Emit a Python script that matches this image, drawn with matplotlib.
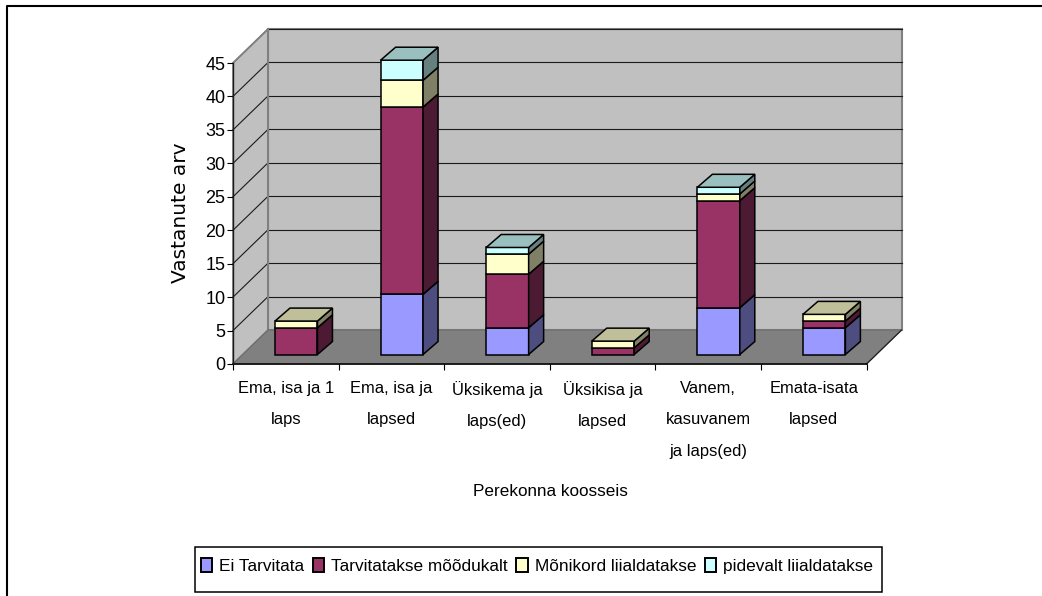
#!/usr/bin/env python3
import numpy as np
import matplotlib
matplotlib.use('Agg')
import matplotlib.pyplot as plt
from matplotlib.lines import Line2D
from matplotlib.patches import Patch, Polygon, Rectangle

plt.rcParams['font.family'] = ['Liberation Sans', 'DejaVu Sans']

categories = ['Ema, isa ja 1\nlaps', 'Ema, isa ja\nlapsed', 'Üksikema ja\nlaps(ed)',
              'Üksikisa ja\nlapsed', 'Vanem,\nkasuvanem\nja laps(ed)', 'Emata-isata\nlapsed']
series = ['Ei Tarvitata', 'Tarvitatakse mõõdukalt', 'Mõnikord liialdatakse', 'pidevalt liialdatakse']
ei_tarvitata = [0, 9, 4, 0, 7, 4]
moodukalt = [4, 28, 8, 1, 16, 1]
monikord = [1, 4, 3, 1, 1, 1]
pidevalt = [0, 3, 1, 0, 1, 0]
yticks = [0, 5, 10, 15, 20, 25, 30, 35, 40, 45]
colours = ['#9999FF', '#993366', '#FFFFCC', '#CCFFFF']

W, H = 1042, 596
# fake 3D, all in data units (x = category, y = value)
wall_dx, wall_dy = 0.332, 5.08
bar_x, bar_w = 0.398, 0.402
bar_base = 1.42
bar_dx, bar_dy = 0.142, 1.94


def shade(c, k):
    return tuple(k * v for v in matplotlib.colors.to_rgb(c))


def poly(ax, pts, fc, ec='black', lw=1.1, z=2):
    ax.add_patch(Polygon(pts, closed=True, fc=fc, ec=ec, lw=lw, zorder=z, clip_on=False, joinstyle='miter'))


def walls(ax):
    n = len(categories)
    top = yticks[-1]
    poly(ax, [(wall_dx, wall_dy), (n + wall_dx, wall_dy), (n + wall_dx, top + wall_dy), (wall_dx, top + wall_dy)],
         '#C0C0C0', '#808080', 1.5, 1)
    poly(ax, [(0, 0), (wall_dx, wall_dy), (wall_dx, top + wall_dy), (0, top)], '#C0C0C0', '#808080', 1.2, 1)
    poly(ax, [(0, 0), (n, 0), (n + wall_dx, wall_dy), (wall_dx, wall_dy)], '#808080', '#707070', 1.0, 1.5)
    for v in yticks[1:]:
        ax.plot([wall_dx, n + wall_dx], [v + wall_dy, v + wall_dy], c='#1a1a1a', lw=0.8, zorder=1.2, clip_on=False)
        if v < top:
            ax.plot([0, wall_dx], [v, v + wall_dy], c='#1a1a1a', lw=0.8, zorder=1.2, clip_on=False)
    ax.plot([0, wall_dx], [top, top + wall_dy], c='#808080', lw=1.2, zorder=1.2, clip_on=False)
    ax.plot([wall_dx, wall_dx], [wall_dy, top + wall_dy], c='#808080', lw=1.5, zorder=1.3, clip_on=False)
    ax.plot([n, n + wall_dx], [0, wall_dy], c='#1a1a1a', lw=0.8, zorder=1.6, clip_on=False)


def bars(ax, stacks):
    for i in range(len(categories)):
        x0 = i + bar_x
        x1 = x0 + bar_w
        bottom = bar_base
        vals = [s[i] for s in stacks]
        last = max(j for j, v in enumerate(vals) if v > 0)
        for j, v in enumerate(vals):
            if v == 0:
                continue
            t = bottom + v
            poly(ax, [(x0, bottom), (x1, bottom), (x1, t), (x0, t)], colours[j], z=3)
            poly(ax, [(x1, bottom), (x1 + bar_dx, bottom + bar_dy), (x1 + bar_dx, t + bar_dy), (x1, t)],
                 shade(colours[j], 0.5), z=3)
            if j == last:
                poly(ax, [(x0, t), (x1, t), (x1 + bar_dx, t + bar_dy), (x0 + bar_dx, t + bar_dy)],
                     shade(colours[j], 0.75), z=3)
            bottom = t


def main():
    f = plt.figure(figsize=(W / 100, H / 100), dpi=100)
    # page frame only shows on the top and left of the crop
    f.add_artist(Line2D([7 / W, 7 / W, 1], [0, 1 - 6 / H, 1 - 6 / H], c='black', lw=1.5, transform=f.transFigure))

    ax = f.add_axes([233 / W, (H - 364) / H, 633.5 / W, 301 / H])
    ax.set_xlim(0, len(categories))
    ax.set_ylim(0, yticks[-1])
    for s in ax.spines.values():
        s.set_visible(False)
    ax.patch.set_visible(False)

    walls(ax)
    bars(ax, [ei_tarvitata, moodukalt, monikord, pidevalt])

    ax.plot([0, len(categories)], [0, 0], c='black', lw=1.1, zorder=2, clip_on=False)
    ax.plot([0, 0], [0, yticks[-1]], c='#1a1a1a', lw=1.0, zorder=2, clip_on=False)

    ax.set_yticks(yticks)
    ax.tick_params(axis='y', length=4.5, width=0.8, pad=1, labelsize=13, colors='black')
    ax.set_xticks(np.arange(len(categories) + 1))
    ax.set_xticklabels([])
    ax.tick_params(axis='x', which='major', length=4.5, width=0.8)
    ax.set_xticks(np.arange(len(categories)) + 0.5, minor=True)
    ax.set_xticklabels(categories, minor=True, fontsize=11.9, linespacing=2.4)
    ax.tick_params(axis='x', which='minor', length=0, pad=12)

    f.text(181 / W, 1 - 213 / H, 'Vastanute arv', rotation=90, fontsize=14.5, ha='center', va='center',
           family='DejaVu Sans')
    f.text(550.5 / W, 1 - 491 / H, 'Perekonna koosseis', fontsize=12.3, ha='center', va='center')

    f.add_artist(Rectangle((194.5 / W, 1 - 592 / H), 687 / W, 45 / H, fc='white', ec='black', lw=1.1,
                           transform=f.transFigure))
    handles = [Patch(fc=c, ec='black', lw=1.4) for c in colours]
    f.legend(handles, series, loc='center', bbox_to_anchor=(537 / W, 1 - 566 / H), ncol=4, fontsize=12.4,
             frameon=False, borderpad=0, handlelength=0.66, handleheight=0.9, handletextpad=0.4,
             columnspacing=0.5, borderaxespad=0)

    plt.savefig('out.png', dpi=100)
    plt.close()


if __name__ == "__main__":
    main()
